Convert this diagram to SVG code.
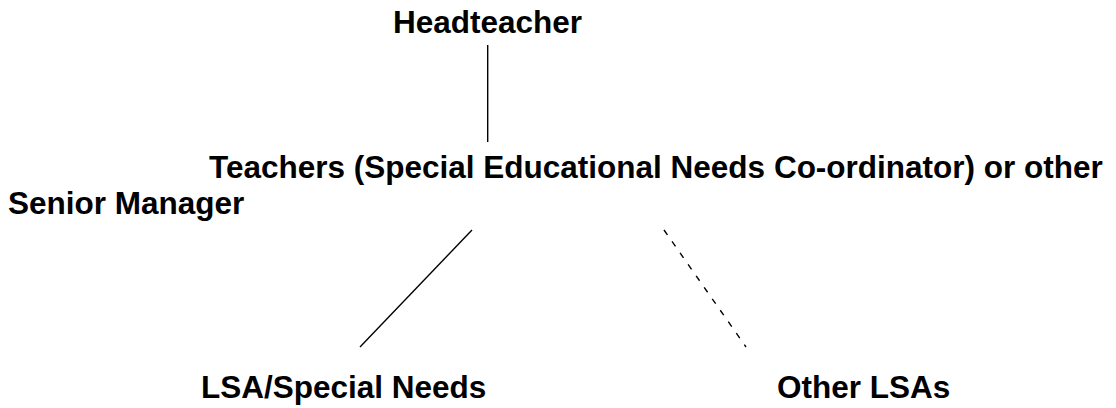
<svg xmlns="http://www.w3.org/2000/svg" width="1116" height="408" viewBox="0 0 1116 408">
<style>
.t{font-family:"Liberation Sans",Arial,sans-serif;font-weight:bold;font-size:31.5px;fill:#000}
.c{stroke:#000;stroke-width:1.4;fill:none}
.d{stroke-dasharray:6 8}
</style>
<rect width="1116" height="408" fill="#fff"/>
<g id="connectors">
<line class="c" x1="487.7" y1="45" x2="487.7" y2="142"/>
<line class="c" x1="472" y1="230" x2="360" y2="347"/>
<line class="c d" x1="664" y1="230" x2="746" y2="347"/>
</g>
<g id="headteacher"><text class="t" x="393" y="33">Headteacher</text></g>
<g id="teachers"><text class="t" x="209" y="178">Teachers (Special Educational Needs Co-ordinator) or other</text><text class="t" x="8" y="214">Senior Manager</text></g>
<g id="lsa-special"><text class="t" x="201" y="398">LSA/Special Needs</text></g>
<g id="other-lsas"><text class="t" x="777" y="398">Other LSAs</text></g>
</svg>
